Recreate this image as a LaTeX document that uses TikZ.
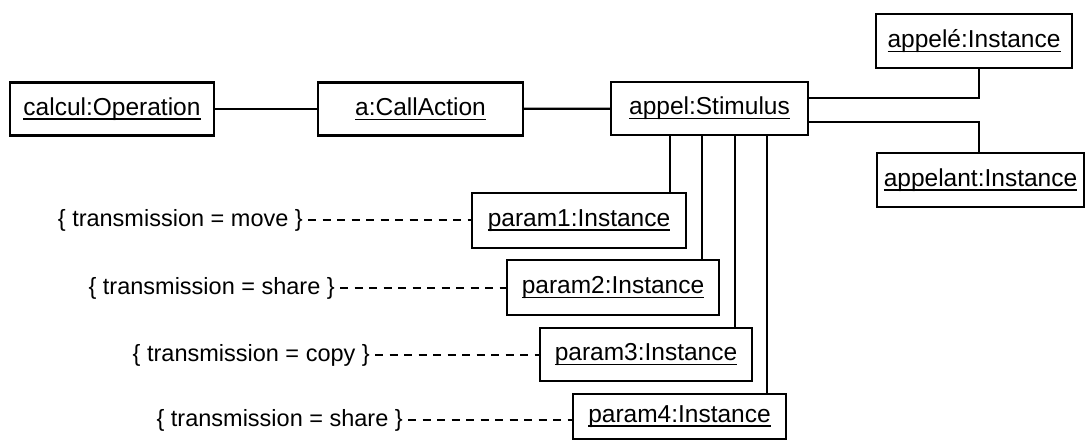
\documentclass[tikz,border=0pt]{standalone}
\usepackage{fontspec}
\setmainfont{Liberation Sans}
\newcommand\ulx[1]{\setbox0\hbox{#1}\rlap{\rule[-4.5pt]{\wd0}{1.4pt}}\box0}
\begin{document}
\begin{tikzpicture}[x=1pt,y=-1pt,
  obj/.style={draw, line width=2.4pt, inner sep=0pt, minimum height=53pt, font=\fontsize{24.5}{28}\selectfont},
  note/.style={inner sep=0pt, anchor=east, font=\fontsize{23.5}{28}\selectfont},
  link/.style={line width=2.3pt},
  dashlink/.style={line width=1.7pt, dash pattern=on 8pt off 6.5pt}]
\useasboundingbox (0,0) rectangle (1089,441);
\fill[white] (0,0) rectangle (1089,441);
\node[obj, minimum width=204pt] (calc) at (112,109) {\ulx{calcul:Operation}};
\node[obj, minimum width=205pt] (act) at (420.5,109) {\ulx{a:CallAction}};
\node[obj, minimum width=197pt] (stim) at (709.5,108.5) {\ulx{appel:Stimulus}};
\node[obj, minimum width=196pt, minimum height=54pt] (callee) at (974,41) {\ulx{appelé:Instance}};
\node[obj, minimum width=207pt, minimum height=54pt] (caller) at (980.5,180) {\ulx{appelant:Instance}};
\node[obj, minimum width=214pt, minimum height=55pt] (p1) at (579,220.5) {\ulx{param1:Instance}};
\node[obj, minimum width=212pt, minimum height=55pt] (p2) at (613,287.5) {\ulx{param2:Instance}};
\node[obj, minimum width=212pt, minimum height=53pt] (p3) at (646,354.5) {\ulx{param3:Instance}};
\node[obj, minimum width=213pt, minimum height=45pt] (p4) at (679.5,416.5) {\raisebox{-3pt}{\ulx{param4:Instance}}};
\node[note] (t1) at (303,220) {\{ transmission = move \}};
\node[note] (t2) at (335,288) {\{ transmission = share \}};
\node[note] (t3) at (370,355) {\{ transmission = copy \}};
\node[note] (t4) at (403,420) {\{ transmission = share \}};
\coordinate (v1) at (670,0);
\coordinate (v2) at (702,0);
\coordinate (v3) at (735,0);
\coordinate (v4) at (767,0);
\coordinate (vr) at (979,0);
\draw[link] (calc) -- (act);
\draw[link] (act) -- (stim);
\draw[link] ([yshift=10.5pt]stim.east) -| (callee.south -| vr);
\draw[link] ([yshift=-13.5pt]stim.east) -| (caller.north -| vr);
\draw[link] (stim.south -| v1) -- (p1.north -| v1);
\draw[link] (stim.south -| v2) -- (p2.north -| v2);
\draw[link] (stim.south -| v3) -- (p3.north -| v3);
\draw[link] (stim.south -| v4) -- (p4.north -| v4);
\draw[dashlink] ([xshift=5pt]t1.east) -- (t1.east -| p1.west);
\draw[dashlink] ([xshift=5pt]t2.east) -- (t2.east -| p2.west);
\draw[dashlink] ([xshift=5pt]t3.east) -- (t3.east -| p3.west);
\draw[dashlink] ([xshift=5pt]t4.east) -- (t4.east -| p4.west);
\end{tikzpicture}
\end{document}
